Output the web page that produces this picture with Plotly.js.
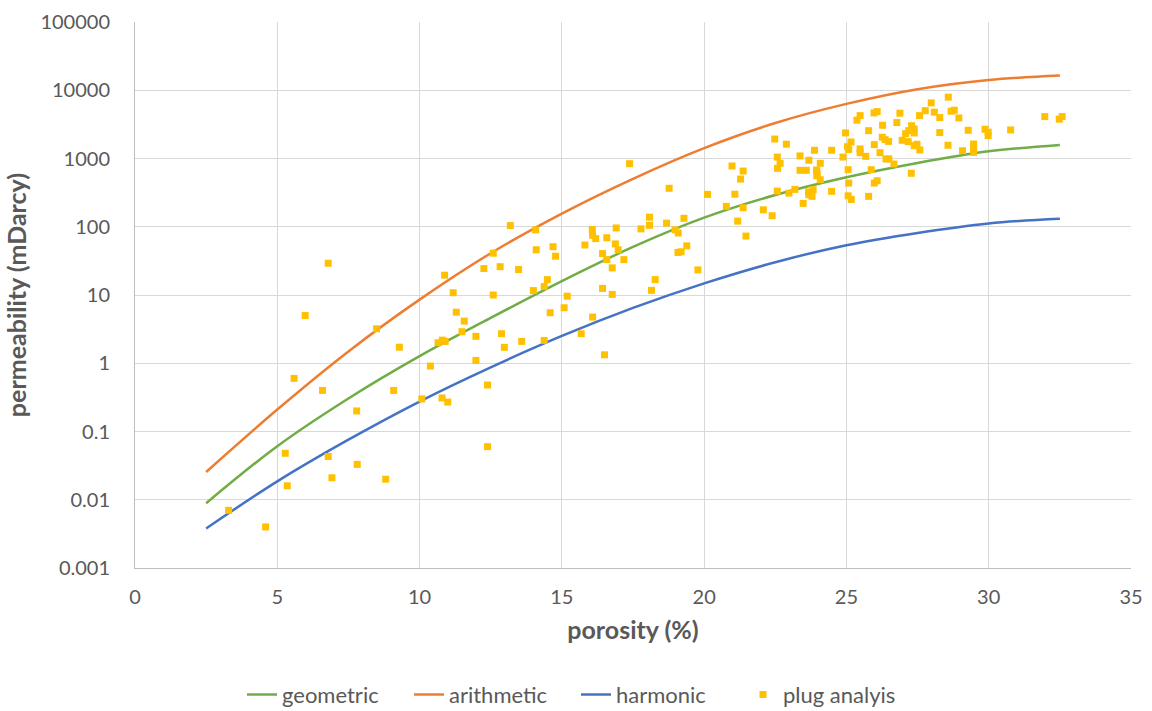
<!DOCTYPE html>
<html>
<head>
<meta charset="utf-8">
<script src="https://cdn.plot.ly/plotly-3.0.1.min.js"></script>
<style>html,body{margin:0;padding:0;background:#fff;}#chart{width:1152px;height:711px;}</style>
</head>
<body>
<div id="chart"></div>
<script>
// Curve sample points (porosity %)
const curveX = [2.5, 5, 7.5, 10, 12.5, 15, 17.5, 20, 22.5, 25, 27.5, 30, 32.5];
const geometricK = [0.0089, 0.061, 0.305, 1.27, 4.62, 16.0, 50.7, 136, 292, 531, 861, 1274, 1581];
const arithmeticK = [0.0255, 0.21, 1.49, 8.55, 40.9, 156, 504, 1419, 3311, 6310, 10350, 14125, 16400];
const harmonicK = [0.0038, 0.0186, 0.0759, 0.275, 0.871, 2.51, 6.46, 14.8, 30.2, 53.7, 81.3, 112, 131];

// Plug analysis data
const plugPorosity = [
 6.79, 10.88, 11.18, 5.98, 11.29, 8.49, 11.49, 9.29, 10.65, 10.8, 10.9, 10.38, 5.59, 6.59, 9.09, 7.79, 10.08, 10.79, 10.99, 5.28, 6.79, 7.81, 5.35, 6.92, 8.81, 3.29, 4.59,
 17.38, 13.19, 14.08, 16.07, 16.08, 16.19, 16.91, 17.78, 16.58, 15.81, 16.88, 16.98, 16.43, 16.58, 16.77, 17.18, 14.69, 14.78, 14.10, 12.59, 12.26, 12.83, 13.48, 12.59, 14.0, 14.38, 14.49, 15.19, 15.08, 14.59, 11.57, 11.98, 12.88, 12.98, 13.59, 14.38, 16.08, 15.68, 16.50, 11.98, 12.39, 12.39,
 18.77, 20.12, 20.98, 21.37, 21.28, 21.08, 20.78, 21.37, 21.18, 21.47, 22.08, 22.39, 22.48, 22.89, 22.57, 22.67, 22.58, 22.57, 22.98, 23.19, 23.37, 23.88, 23.68, 23.37, 23.59, 24.08, 23.95, 23.97, 23.96, 24.08, 24.48, 24.88, 23.67, 23.83, 23.79, 23.48, 24.48, 23.68,
 18.08, 18.08, 18.68, 18.98, 19.09, 19.29, 19.08, 19.19, 19.39, 19.78, 18.28, 18.15, 16.43, 16.77,
 24.97, 25.04, 25.16, 25.08, 25.06, 25.08, 25.06, 25.17, 25.37, 25.48, 25.78, 25.97, 26.08, 26.27, 25.98, 25.48, 25.48, 25.68, 26.18, 26.26, 26.36, 26.48, 26.39, 26.49, 26.67, 25.87, 25.98, 26.08, 25.78,
 26.77, 26.88, 26.96, 27.08, 27.19, 27.29, 27.38, 27.38, 27.17, 27.38, 27.48, 27.58, 27.28, 27.57, 27.77, 27.98, 28.09, 28.28, 28.28, 28.58, 28.57, 28.68, 28.79, 28.95,
 29.28, 29.87, 29.98, 29.98, 30.77, 29.08, 29.47, 29.47, 29.47, 31.97, 32.48, 32.58
];
const plugPermeability = [
 29.2, 19.5, 10.8, 5.0, 5.6, 3.2, 2.9, 1.72, 2.0, 2.18, 2.09, 0.91, 0.60, 0.40, 0.40, 0.20, 0.30, 0.31, 0.27, 0.048, 0.043, 0.033, 0.016, 0.021, 0.020, 0.0070, 0.0040,
 839, 104, 90, 91, 75, 67, 96, 93, 69, 54, 56, 46, 40.5, 33, 25, 33, 51, 37, 46, 41, 24.4, 26, 23.6, 10, 11.6, 13.3, 16.8, 9.6, 6.5, 5.5, 4.15, 2.48, 2.71, 1.71, 2.09, 2.16, 4.75, 2.71, 1.33, 1.1, 0.48, 0.060,
 366, 298, 776, 655, 500, 300, 199, 190, 121, 73, 177, 145, 1930, 1620, 1050, 850, 718, 333, 311, 353, 1090, 1320, 942, 671, 671, 850, 678, 605, 560, 488, 1320, 1050, 325, 349, 279, 220, 330, 295,
 138, 105, 113, 90, 81, 133, 42, 43, 52.5, 23.3, 16.8, 11.7, 12.5, 10.2,
 2370, 1490, 1745, 1350, 685, 437, 284, 251, 3640, 4250, 2560, 4660, 4860, 3070, 1595, 1380, 1217, 1075, 1217, 2050, 1890, 1780, 985, 985, 830, 685, 437, 472, 279,
 3360, 4610, 1850, 2310, 2560, 3020, 2370, 2710, 1765, 1540, 1615, 1333, 607, 4250, 5020, 6530, 4770, 3980, 2400, 7920, 1563, 4930, 5100, 3930,
 2590, 2680, 2430, 2160, 2620, 1300, 1630, 1460, 1230, 4110, 3770, 4110
];

const yTickVals = [0.001, 0.01, 0.1, 1, 10, 100, 1000, 10000, 100000];
const yTickText = ["0.001", "0.01", "0.1", "1", "10", "100", "1000", "10000", "100000"];

const FONT = "Lato, 'Open Sans', sans-serif";

const traces = [
  {x: curveX, y: geometricK, name: "geometric", mode: "lines", type: "scatter",
   line: {color: "#70AD47", width: 2.5, shape: "spline", smoothing: 1}},
  {x: curveX, y: arithmeticK, name: "arithmetic", mode: "lines", type: "scatter",
   line: {color: "#ED7D31", width: 2.5, shape: "spline", smoothing: 1}},
  {x: curveX, y: harmonicK, name: "harmonic", mode: "lines", type: "scatter",
   line: {color: "#4472C4", width: 2.5, shape: "spline", smoothing: 1}},
  {x: plugPorosity, y: plugPermeability, name: "plug analyis", mode: "markers", type: "scatter",
   marker: {color: "#FFC000", symbol: "square", size: 7}}
];

const layout = {
  width: 1152, height: 711,
  margin: {l: 135, r: 21, t: 22, b: 143},
  paper_bgcolor: "#ffffff", plot_bgcolor: "#ffffff",
  font: {family: FONT, color: "#595959", size: 20},
  showlegend: true,
  legend: {orientation: "h", x: 0.5, xref: "container", xanchor: "center",
           y: 0.023, yref: "container", yanchor: "middle",
           entrywidth: 122, entrywidthmode: "pixels",
           font: {family: FONT, size: 22, color: "#595959"}, traceorder: "normal"},
  xaxis: {
    range: [0, 35], dtick: 5, tick0: 0, showgrid: true, gridcolor: "#D9D9D9", gridwidth: 1,
    zeroline: false, showline: true, linecolor: "#BFBFBF", linewidth: 1, ticks: "",
    ticklabelstandoff: 11, automargin: false,
    tickfont: {family: FONT, size: 20, color: "#595959"},
    title: {text: "porosity (%)", font: {family: FONT, size: 25, color: "#595959", weight: "bold"}, standoff: 14}
  },
  yaxis: {
    type: "log", range: [-3, 5], tickvals: yTickVals, ticktext: yTickText,
    showgrid: true, gridcolor: "#D9D9D9", gridwidth: 1, zeroline: false,
    showline: true, linecolor: "#BFBFBF", linewidth: 1, ticks: "", ticklabelstandoff: 20,
    automargin: false,
    tickfont: {family: FONT, size: 20, color: "#595959"},
    title: {text: "permeability (mDarcy)", font: {family: FONT, size: 25, color: "#595959", weight: "bold"}, standoff: 6}
  }
};

Plotly.newPlot("chart", traces, layout, {displayModeBar: false, staticPlot: true});
</script>
</body>
</html>
